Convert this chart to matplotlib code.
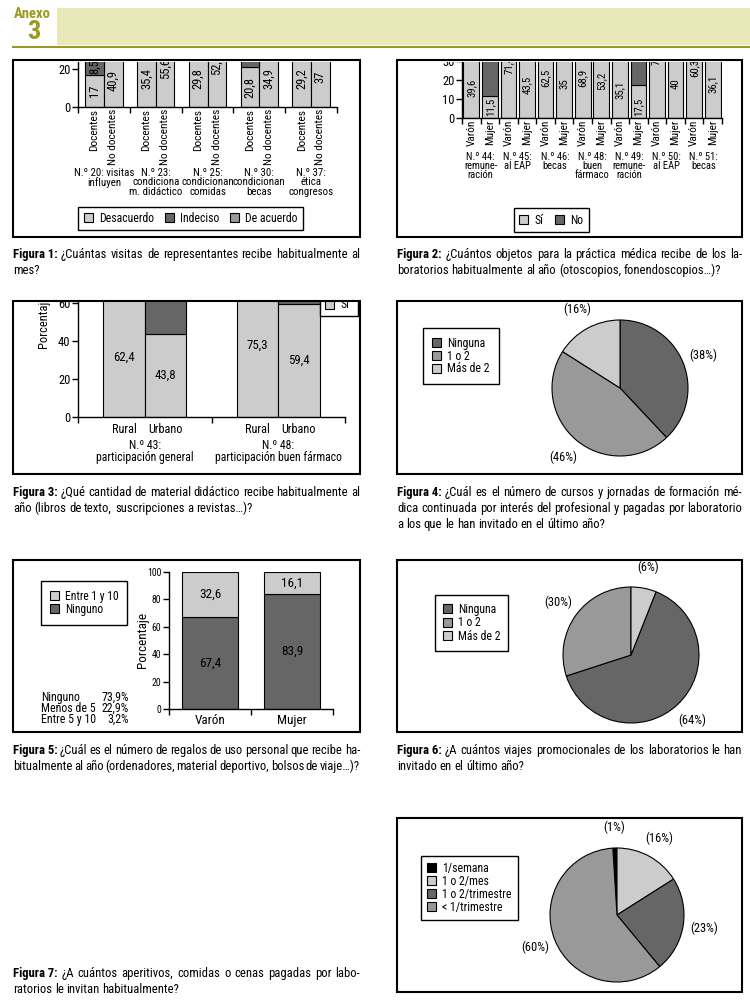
import matplotlib
matplotlib.use('Agg')
import matplotlib.pyplot as plt
from matplotlib.patches import Rectangle, Patch
from matplotlib import transforms, font_manager
import numpy as np

# ---------------- data ----------------
p1_groups = ['N.º 20: visitas\ninfluyen', 'N.º 23:\ncondiciona\nm. didáctico',
             'N.º 25:\ncondicionan\ncomidas', 'N.º 30:\ncondicionan\nbecas',
             'N.º 37:\nética\ncongresos']
p1_sub = ['Docentes', 'No docentes']
p1_series = ['Desacuerdo', 'Indeciso', 'De acuerdo']
p1_desacuerdo = [17.0, 40.9, 35.4, 55.6, 29.8, 52.3, 20.8, 34.9, 29.2, 37.0]
p1_indeciso = [8.5, 10.2, 12.4, 9.8, 14.1, 11.6, 9.4, 12.0, 15.3, 13.5]
p1_acuerdo = [74.5, 48.9, 52.2, 34.6, 56.1, 36.1, 69.8, 53.1, 55.5, 49.5]

p2_groups = ['N.º 44:\nremune-\nración', 'N.º 45:\nal EAP', 'N.º 46:\nbecas',
             'N.º 48:\nbuen\nfármaco', 'N.º 49:\nremune-\nración', 'N.º 50:\nal EAP',
             'N.º 51:\nbecas']
p2_sub = ['Varón', 'Mujer']
p2_series = ['Sí', 'No']
p2_si = [39.6, 11.5, 71.4, 43.5, 62.5, 35.0, 68.9, 53.2, 35.1, 17.5, 72.0, 40.0, 60.3, 36.1]
p2_no = [60.4, 88.5, 28.6, 56.5, 37.5, 65.0, 31.1, 46.8, 64.9, 82.5, 28.0, 60.0, 39.7, 63.9]

p3_groups = ['N.º 43:\nparticipación general', 'N.º 48:\nparticipación buen fármaco']
p3_sub = ['Rural', 'Urbano']
p3_series = ['No', 'Sí']
p3_si = [62.4, 43.8, 75.3, 59.4]
p3_no = [37.6, 56.2, 24.7, 40.6]

p4_labels = ['Ninguna', '1 o 2', 'Más de 2']
p4_vals = [38, 46, 16]

p5_cats = ['Varón', 'Mujer']
p5_series = ['Entre 1 y 10', 'Ninguno']
p5_ninguno = [67.4, 83.9]
p5_entre = [32.6, 16.1]
p5_summary_labels = ['Ninguno', 'Menos de 5', 'Entre 5 y 10']
p5_summary_vals = ['73,9%', '22,9%', '3,2%']

p6_labels = ['Ninguna', '1 o 2', 'Más de 2']
p6_vals = [64, 30, 6]

p7_labels = ['1/semana', '1 o 2/mes', '1 o 2/trimestre', '< 1/trimestre']
p7_vals = [1, 16, 23, 60]

captions = [
    ('Figura 1:', ['¿Cuántas visitas de representantes recibe habitualmente al', 'mes?']),
    ('Figura 2:', ['¿Cuántos objetos para la práctica médica recibe de los la-',
                   'boratorios habitualmente al año (otoscopios, fonendoscopios…)?']),
    ('Figura 3:', ['¿Qué cantidad de material didáctico recibe habitualmente al',
                   'año (libros de texto, suscripciones a revistas…)?']),
    ('Figura 4:', ['¿Cuál es el número de cursos y jornadas de formación mé-',
                   'dica continuada por interés del profesional y pagadas por laboratorio',
                   'a los que le han invitado en el último año?']),
    ('Figura 5:', ['¿Cuál es el número de regalos de uso personal que recibe ha-',
                   'bitualmente al año (ordenadores, material deportivo, bolsos de viaje…)?']),
    ('Figura 6:', ['¿A cuántos viajes promocionales de los laboratorios le han',
                   'invitado en el último año?']),
    ('Figura 7:', ['¿A cuántos aperitivos, comidas o cenas pagadas por labo-',
                   'ratorios le invitan habitualmente?']),
]

# ---------------- font selection ----------------
narrow = None
for f in font_manager.fontManager.ttflist:
    n = f.name
    if ('Narrow' in n or 'Condensed' in n) and 'Mono' not in n and 'Serif' not in n \
            and 'DejaVu' not in n:
        narrow = n
        if 'Liberation' in n or 'Arial' in n:
            break
FONT = ([narrow] if narrow else []) + ['Liberation Sans', 'DejaVu Sans']
plt.rcParams['font.family'] = FONT

LIGHT, DARK, MID, BLACK = '#cccccc', '#666666', '#999999', '#000000'
OLIVE = '#9a9a20'
W, H = 750, 1007
fig = plt.figure(figsize=(W / 100, H / 100), dpi=100)
fig.patch.set_facecolor('white')

FS_TICK = 9        # axis numbers
FS_CAT = 8.2       # rotated category labels
FS_LEG = 8.5


def fx(x):
    return x / W


def fy(y):
    return 1 - y / H


def axes_px(x0, y0, x1, y1):
    return fig.add_axes([x0 / W, 1 - y1 / H, (x1 - x0) / W, (y1 - y0) / H])


def rect_px(x0, y0, x1, y1, **kw):
    r = Rectangle((x0 / W, 1 - y1 / H), (x1 - x0) / W, (y1 - y0) / H,
                  transform=fig.transFigure, **kw)
    fig.add_artist(r)
    return r


def box(x0, y0, x1, y1):
    rect_px(x0, y0, x1, y1, fill=False, ec='black', lw=1.5, zorder=30)


def fmt(v):
    s = ('%.1f' % v).replace('.', ',')
    return s[:-2] if s.endswith(',0') else s


def style_axes(ax, fs=FS_TICK):
    for s in ('top', 'right'):
        ax.spines[s].set_visible(False)
    for s in ('left', 'bottom'):
        ax.spines[s].set_linewidth(1.0)
    ax.tick_params(axis='y', direction='out', length=4, width=1, labelsize=fs, pad=1.5)
    ax.tick_params(axis='x', which='major', length=0, labelsize=fs)
    ax.tick_params(axis='x', which='minor', direction='out', length=4, width=1)
    ax.set_facecolor('none')


def sq(c):
    return Patch(facecolor=c, edgecolor='black', lw=0.8)


def leg(**kw):
    base = dict(frameon=True, fancybox=False, edgecolor='black', framealpha=1,
                handlelength=0.8, handleheight=0.8, handletextpad=0.5,
                labelspacing=0.12, borderpad=0.45, borderaxespad=0, fontsize=FS_LEG)
    base.update(kw)
    return base


# ---------------- header ----------------
rect_px(57, 8, 750, 45, fc='#e8e8b8', ec='none', zorder=1)
fig.add_artist(plt.Line2D([fx(13), fx(750)], [fy(46.5), fy(46.5)], color=OLIVE, lw=2.2,
                          transform=fig.transFigure))
fig.text(fx(32.5), fy(14.5), 'Anexo', ha='center', va='center', fontsize=10.5,
         fontweight='bold', color=OLIVE)
fig.text(fx(33.5), fy(32), '3', ha='center', va='center', fontsize=19,
         fontweight='bold', color=OLIVE)

# ---------------- panel 1 ----------------
ax1 = axes_px(78, 61, 337, 107)
style_axes(ax1)
bw1 = 0.36
x1 = [g + (k - 0.5) * bw1 for g in range(len(p1_groups)) for k in range(2)]
d = np.array(p1_desacuerdo)
i_ = np.array(p1_indeciso)
a = np.array(p1_acuerdo)
ax1.bar(x1, d, width=bw1, color=LIGHT, edgecolor='black', lw=0.8)
ax1.bar(x1, i_, bottom=d, width=bw1, color=DARK, edgecolor='black', lw=0.8)
ax1.bar(x1, a, bottom=d + i_, width=bw1, color=MID, edgecolor='black', lw=0.8)
ax1.set_xlim(-0.5, len(p1_groups) - 0.5)
top1 = (107 - 61) / 1.9
ax1.set_ylim(0, top1)
ax1.set_yticks([0, 20])
ax1.set_xticks(x1)
ax1.set_xticklabels(p1_sub * len(p1_groups), rotation=90, fontsize=FS_CAT, va='top')
ax1.tick_params(axis='x', which='major', pad=1.5)
ax1.set_xticks(np.arange(-0.5, len(p1_groups), 1.0), minor=True)
p1_label_y = [8.5, 13.8, 15.2, 20.5, 15.0, 22.5, 10.4, 15.2, 15.0, 16.0]
for xx, v, ly in zip(x1, d, p1_label_y):
    ax1.text(xx, ly, fmt(v), rotation=90, ha='center', va='center', fontsize=9, clip_on=True)
for xx, b, v in zip(x1, d, i_):
    c = b + v / 2
    if c < top1:
        ax1.text(xx, c, fmt(v), rotation=90, ha='center', va='center', fontsize=9,
                 clip_on=True)
bl1 = transforms.blended_transform_factory(ax1.transData, fig.transFigure)
for g, lab in enumerate(p1_groups):
    ax1.text(g, fy(167.5), lab, transform=bl1, ha='center', va='top', fontsize=7.8,
             linespacing=0.97)
fig.legend([sq(LIGHT), sq(DARK), sq(MID)], p1_series, loc='center',
           bbox_to_anchor=(fx(190.5), fy(218.5)), ncol=3, columnspacing=0.9,
           **leg(fontsize=8.5))

# ---------------- panel 2 ----------------
ax2 = axes_px(462, 61, 722, 118)
style_axes(ax2)
bw2 = 0.84
x2 = np.arange(len(p2_si))
ax2.bar(x2, p2_si, width=bw2, color=LIGHT, edgecolor='black', lw=0.8)
ax2.bar(x2, p2_no, bottom=p2_si, width=bw2, color=DARK, edgecolor='black', lw=0.8)
ax2.set_xlim(-0.5, len(p2_si) - 0.5)
ax2.set_ylim(0, (118 - 61) / 1.9)
ax2.set_yticks([0, 10, 20, 30])
ax2.set_xticks(x2)
ax2.set_xticklabels(p2_sub * len(p2_groups), rotation=90, fontsize=FS_CAT, va='top')
ax2.tick_params(axis='x', which='major', pad=1.5)
ax2.set_xticks(np.arange(-0.5, len(p2_si), 1.0), minor=True)
p2_label_y = [15.8, 6.0, 27.9, 17.4, 21.3, 17.9, 21.3, 19.5, 14.7, 6.0, 30.5, 17.9, 26.3, 17.9]
for xx, v, ly in zip(x2, p2_si, p2_label_y):
    ax2.text(xx, ly, fmt(v), rotation=90, ha='center', va='center', fontsize=7.8, clip_on=True)
bl2 = transforms.blended_transform_factory(ax2.transData, fig.transFigure)
for g, lab in enumerate(p2_groups):
    ax2.text(2 * g + 0.5, fy(151.5), lab, transform=bl2, ha='center', va='top',
             fontsize=7.6, linespacing=0.92)
fig.legend([sq(LIGHT), sq(DARK)], p2_series, loc='center',
           bbox_to_anchor=(fx(551), fy(220)), ncol=2, columnspacing=1.0, **leg())

# ---------------- panel 3 ----------------
ax3 = axes_px(78, 302, 345, 417)
style_axes(ax3)
bw3 = 0.62
x3 = [2 * g + 1 + (k - 0.5) * bw3 for g in range(len(p3_groups)) for k in range(2)]
ax3.bar(x3, p3_si, width=bw3, color=LIGHT, edgecolor='black', lw=0.8)
ax3.bar(x3, p3_no, bottom=p3_si, width=bw3, color=DARK, edgecolor='black', lw=0.8)
ax3.set_xlim(0, 2 * len(p3_groups))
ax3.set_ylim(0, (417 - 302) / 1.9)
ax3.set_yticks([0, 20, 40, 60])
ax3.set_xticks(x3)
ax3.set_xticklabels(p3_sub * len(p3_groups), fontsize=8.8)
ax3.tick_params(axis='x', which='major', pad=4.5)
ax3.set_xticks([0, 2, 4], minor=True)
ax3.set_ylabel('Porcentaje', fontsize=9)
ax3.yaxis.set_label_coords(-(78 - 50) / 267, (417 - 321) / 115)
for xx, v in zip(x3, p3_si):
    ax3.text(xx, v / 2, fmt(v), ha='center', va='center', fontsize=9.3)
bl3 = transforms.blended_transform_factory(ax3.transData, fig.transFigure)
for g, lab in enumerate(p3_groups):
    ax3.text(2 * g + 1, fy(439), lab, transform=bl3, ha='center', va='top',
             fontsize=8.5, linespacing=0.92)
fig.legend([sq(DARK), sq(LIGHT)], p3_series, loc='lower right',
           bbox_to_anchor=(fx(358), fy(316)), **leg(labelspacing=0.0, borderpad=0.4))

# ---------------- panel 5 ----------------
ax5 = axes_px(169, 572, 333, 709)
style_axes(ax5, fs=7)
bw5 = 0.69
x5 = np.arange(len(p5_cats)) + 0.5
ax5.bar(x5, p5_ninguno, width=bw5, color=DARK, edgecolor='black', lw=0.8)
ax5.bar(x5, p5_entre, bottom=p5_ninguno, width=bw5, color=LIGHT, edgecolor='black', lw=0.8)
ax5.set_xlim(0, len(p5_cats))
ax5.set_ylim(0, 100)
ax5.set_yticks(np.arange(0, 101, 20))
ax5.set_xticks(x5)
ax5.set_xticklabels(p5_cats, fontsize=9.5)
ax5.tick_params(axis='x', which='major', pad=3.5)
ax5.set_xticks([0, 1, 2], minor=True)
ax5.set_ylabel('Porcentaje', fontsize=9.5)
ax5.yaxis.set_label_coords(-(169 - 148.5) / 164, 0.5)
for xx, v in zip(x5, p5_ninguno):
    ax5.text(xx, v / 2, fmt(v), ha='center', va='center', fontsize=9.5)
for xx, b, v in zip(x5, p5_ninguno, p5_entre):
    ax5.text(xx, b + v / 2, fmt(v), ha='center', va='center', fontsize=9.5)
fig.legend([sq(LIGHT), sq(DARK)], p5_series, loc='upper left',
           bbox_to_anchor=(fx(41), fy(581)), **leg(fontsize=8.4, borderpad=0.75,
                                                   labelspacing=0.0))
for k, (lab, val) in enumerate(zip(p5_summary_labels, p5_summary_vals)):
    fig.text(fx(41), fy(697 + 11 * k), lab, ha='left', va='center', fontsize=8.6)
    fig.text(fx(129), fy(697 + 11 * k), val, ha='right', va='center', fontsize=8.6)


# ---------------- pies ----------------
def pie_panel(cx, cy, r, vals, colors, start, dist, fs=9):
    m = 1.03
    ax = axes_px(cx - r * m, cy - r * m, cx + r * m, cy + r * m)
    wedges, _ = ax.pie(vals, colors=colors, startangle=start, counterclock=False,
                       wedgeprops=dict(edgecolor='black', linewidth=0.8))
    ax.set_xlim(-m, m)
    ax.set_ylim(-m, m)
    for w, v in zip(wedges, vals):
        ang = np.deg2rad((w.theta1 + w.theta2) / 2)
        ax.text(dist * np.cos(ang), dist * np.sin(ang), '(%d%%)' % v,
                ha='center', va='center', fontsize=fs)
    return ax


pie_panel(620, 388, 68, p4_vals, [DARK, MID, LIGHT], 90, 1.32)
fig.legend([sq(DARK), sq(MID), sq(LIGHT)], p4_labels, loc='upper left',
           bbox_to_anchor=(fx(423), fy(328)),
           **leg(fontsize=8.5, borderpad=0.75, labelspacing=-0.02))

pie_panel(631, 655, 68, p6_vals, [DARK, MID, LIGHT],
          90 - 360 * p6_vals[-1] / sum(p6_vals), 1.32)
fig.legend([sq(DARK), sq(MID), sq(LIGHT)], p6_labels, loc='upper left',
           bbox_to_anchor=(fx(435), fy(595)),
           **leg(fontsize=8.5, borderpad=0.65, labelspacing=0.05))

pie_panel(617, 915, 67, p7_vals, [BLACK, LIGHT, DARK, MID],
          90 + 360 * p7_vals[0] / sum(p7_vals), 1.31)
fig.legend([sq(BLACK), sq(LIGHT), sq(DARK), sq(MID)], p7_labels, loc='upper left',
           bbox_to_anchor=(fx(421), fy(856)),
           **leg(fontsize=8.5, borderpad=0.5, labelspacing=0.0))

# ---------------- masks & boxes ----------------
rect_px(0, 48.5, 750, 61.5, fc='white', ec='none', zorder=25)
rect_px(0, 278.5, 750, 302, fc='white', ec='none', zorder=25)
rect_px(290, 262, 372, 302, fc='white', ec='none', zorder=25)
box(13, 60, 360, 237)
box(397, 60, 742, 237)
box(13, 301, 360, 474)
box(397, 301, 742, 474)
box(13, 560, 360, 732)
box(397, 560, 742, 732)
box(397, 818, 742, 992)

# ---------------- captions (justified, auto-fitted size) ----------------
renderer = fig.canvas.get_renderer()
BASE = 10.0


def word_width(s, bold, size):
    t = fig.text(0, 0, s, fontsize=size, fontweight='bold' if bold else 'normal')
    w = t.get_window_extent(renderer).width
    t.remove()
    return w


cap_pos = [(13, 360, 258), (397, 742, 258), (13, 360, 496), (397, 742, 496),
           (13, 360, 754), (397, 742, 754), (13, 360, 977)]

space_base = word_width('a b', False, BASE) - word_width('ab', False, BASE)
scale = 10.0
for (x0, x1, y0), (head, lines) in zip(cap_pos, captions):
    for li, line in enumerate(lines):
        words = [(w, False) for w in line.split(' ')]
        if li == 0:
            words = [(head, True)] + words
        nat = sum(word_width(w, b, BASE) for w, b in words) + space_base * 0.8 * (len(words) - 1)
        scale = min(scale, (x1 - x0) / nat)
CFS = min(10.5, BASE * scale)
space = space_base * CFS / BASE


def caption(x0, x1, y0, head, lines, ls=16):
    for li, line in enumerate(lines):
        words = [(w, False) for w in line.split(' ')]
        if li == 0:
            words = [(head, True)] + words
        widths = [word_width(w, b, CFS) for w, b in words]
        last = li == len(lines) - 1
        if len(words) < 2:
            gap = space
        else:
            just = (x1 - x0 - sum(widths)) / (len(words) - 1)
            gap = min(space, just) if last else just
        xx = x0
        for (w, b), wd in zip(words, widths):
            fig.text(fx(xx), fy(y0 + li * ls), w, fontsize=CFS,
                     fontweight='bold' if b else 'normal', ha='left', va='baseline')
            xx += wd + gap


for (x0, x1, y0), (head, lines) in zip(cap_pos, captions):
    caption(x0, x1, y0, head, lines)

fig.savefig('out.png', dpi=100)
